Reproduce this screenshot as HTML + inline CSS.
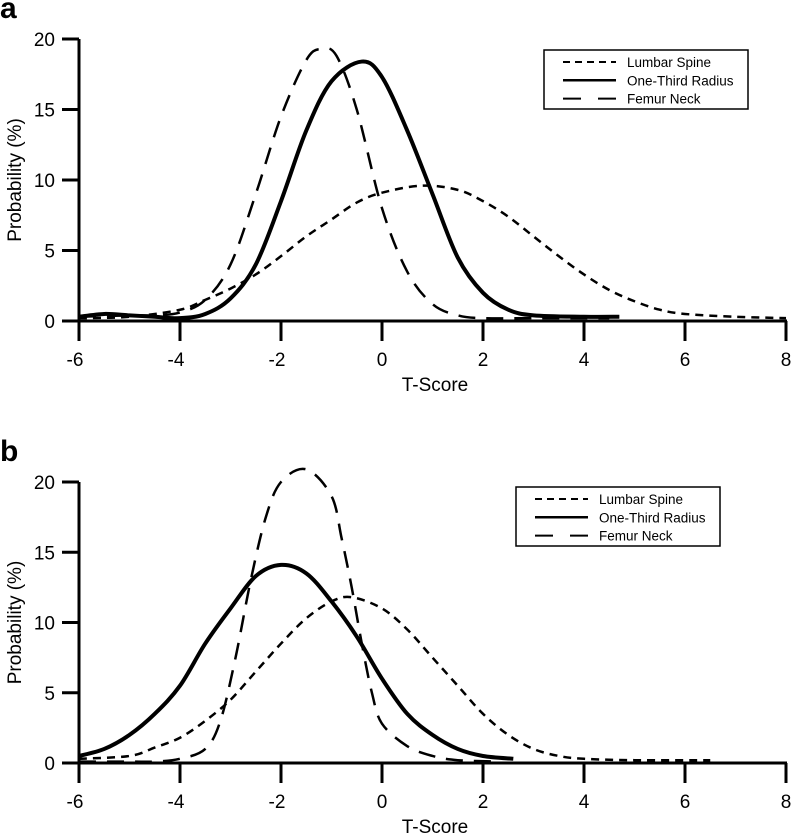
<!DOCTYPE html>
<html><head><meta charset="utf-8"><style>
body{margin:0;background:#fff}
svg{display:block;font-family:"Liberation Sans",Arial,sans-serif}
</style></head><body>
<svg id="chart" width="793" height="839"></svg>
<script>
const xTicks=[-6,-4,-2,0,2,4,6,8];
const yTicks=[0,5,10,15,20];
const seriesNames=["Lumbar Spine","One-Third Radius","Femur Neck"];
// Panel a
const aLumbarX=[-6,-5,-4,-3.5,-3,-2.5,-2,-1.5,-1,-0.5,0,0.8,1.5,2,2.5,3,3.5,4,4.5,5,5.5,6,7,8];
const aLumbarY=[0.2,0.3,0.8,1.5,2.3,3.3,4.6,6,7.2,8.4,9.1,9.6,9.3,8.5,7.4,6,4.6,3.3,2.2,1.4,0.8,0.5,0.3,0.2];
const aRadiusX=[-6,-5.5,-5,-4.5,-4,-3.5,-3,-2.5,-2,-1.5,-1,-0.4,0,0.5,1,1.5,2,2.5,3,4,4.7];
const aRadiusY=[0.3,0.5,0.4,0.3,0.2,0.5,1.6,4,8.5,13.5,17,18.4,17.3,13.5,9,4.5,2,0.8,0.4,0.3,0.3];
const aFemurX=[-6,-5,-4.5,-4,-3.5,-3,-2.5,-2,-1.5,-1.2,-0.9,-0.5,0,0.5,1,1.5,2,3,4,4.5];
const aFemurY=[0.3,0.4,0.4,0.6,1.5,4,9,14.5,18.5,19.3,18.8,15,8,3.5,1.2,0.4,0.2,0.2,0.2,0.2];
// Panel b
const bLumbarX=[-6,-5,-4.5,-4,-3.5,-3,-2.5,-2,-1.5,-1,-0.6,0,0.5,1,1.5,2,2.5,3,3.5,4,5,6.5];
const bLumbarY=[0.3,0.5,1.1,1.8,3,4.5,6.5,8.5,10.3,11.5,11.8,11,9.5,7.5,5.5,3.5,2,1,0.5,0.3,0.2,0.2];
const bRadiusX=[-6,-5.5,-5,-4.5,-4,-3.5,-3,-2.5,-2,-1.5,-1,-0.5,0,0.5,1,1.5,2,2.6];
const bRadiusY=[0.5,1,2,3.5,5.5,8.5,11,13.3,14.1,13.5,11.5,9,6,3.5,2,1,0.5,0.3];
const bFemurX=[-6,-5,-4.5,-4,-3.5,-3.2,-2.9,-2.6,-2.3,-2,-1.5,-1,-0.8,-0.6,-0.4,-0.2,0,0.5,1,1.5,2.3];
const bFemurY=[0.1,0.1,0.1,0.3,1,3,7.5,13,17.5,20,20.9,19,16,12.5,8.5,5,2.8,1.2,0.5,0.2,0.1];

const NS="http://www.w3.org/2000/svg";
const svg=document.getElementById('chart');
function mk(tag,attrs,parent){const e=document.createElementNS(NS,tag);for(const k in attrs)e.setAttribute(k,attrs[k]);(parent||svg).appendChild(e);return e;}
function xs(v){return 79+(v+6)*50.5;}
function path(X,Y,sx,sy){
  const p=X.map((x,i)=>[sx(x),sy(Y[i])]);
  let d="M"+p[0][0]+","+p[0][1];
  for(let i=0;i<p.length-1;i++){
    const p0=p[i-1]||p[i],p1=p[i],p2=p[i+1],p3=p[i+2]||p2;
    const c1=[p1[0]+(p2[0]-p0[0])/6,p1[1]+(p2[1]-p0[1])/6];
    const c2=[p2[0]-(p3[0]-p1[0])/6,p2[1]-(p3[1]-p1[1])/6];
    d+=` C${c1[0]},${c1[1]} ${c2[0]},${c2[1]} ${p2[0]},${p2[1]}`;
  }
  return d;
}
const styles=[{w:2.5,dash:"8,6"},{w:4,dash:""},{w:2.5,dash:"17,11"}];
function panel(id,letter,y0,y20,data,leg){
  const g=mk('g',{});
  
  
  const ys=v=>y0+(y20-y0)*v/20;
  const t=mk('text',{x:0,y:y20-21,'font-size':30,'font-weight':'bold'},g);t.textContent=letter;
  
  
  const ya=mk('line',{x1:79,y1:y20,x2:79,y2:y0+1.5,stroke:'#000','stroke-width':3},g);
  
  
  const xa=mk('line',{x1:62,y1:y0,x2:787,y2:y0,stroke:'#000','stroke-width':3},g);
  
  
  yTicks.forEach(v=>{
    mk('line',{x1:62,y1:ys(v),x2:79,y2:ys(v),stroke:'#000','stroke-width':3},g);
    const tx=mk('text',{x:55,y:ys(v)+7,'font-size':19,'text-anchor':'end'},g);tx.textContent=v;
    
    
  });
  xTicks.forEach(v=>{
    mk('line',{x1:xs(v),y1:y0,x2:xs(v),y2:y0+20,stroke:'#000','stroke-width':3},g);
    const tx=mk('text',{x:xs(v)-(v<0?4:0),y:y0+45,'font-size':19,'text-anchor':'middle'},g);tx.textContent=v;
    
    
  });
  const xt=mk('text',{x:435,y:y0+70,'font-size':19,'text-anchor':'middle'},g);xt.textContent='T-Score';
  
  
  const yc=(y0+y20)/2;
  const yt=mk('text',{x:0,y:0,'font-size':19,'text-anchor':'middle',transform:`translate(21,${yc}) rotate(-90)`},g);yt.textContent='Probability (%)';
  
  
  data.forEach((s,i)=>{
    const p=mk('path',{d:path(s[0],s[1],xs,ys),fill:'none',stroke:'#000','stroke-width':styles[i].w,'stroke-dasharray':styles[i].dash},g);
    
    
  });
  const lg=mk('g',{},g);
  
  
  mk('rect',{x:leg[0],y:leg[1],width:204,height:59,fill:'#fff',stroke:'#000','stroke-width':1.5},lg);
  seriesNames.forEach((n,i)=>{
    const ly=leg[1]+12+i*18.3;
    const l=mk('line',{x1:leg[0]+19,y1:ly,x2:leg[0]+72,y2:ly,stroke:'#000','stroke-width':i==1?2.5:2,'stroke-dasharray':i==0?'7,5':(i==2?'18,17':'')},lg);
    
    
    const tx=mk('text',{x:leg[0]+83,y:ly+5,'font-size':13.5},lg);tx.textContent=n;
    
    
  });
}
panel('a','a',321,39,[[aLumbarX,aLumbarY],[aRadiusX,aRadiusY],[aFemurX,aFemurY]],[544,50]);
panel('b','b',763,482,[[bLumbarX,bLumbarY],[bRadiusX,bRadiusY],[bFemurX,bFemurY]],[516,487]);
</script>
</body></html>
